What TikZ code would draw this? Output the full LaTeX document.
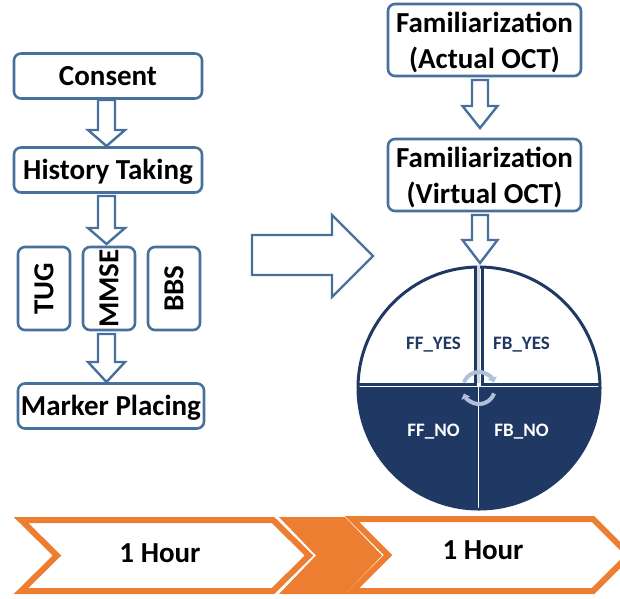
\documentclass[tikz,border=0pt]{standalone}
\usepackage{fontspec}
\setmainfont{Carlito}
\usetikzlibrary{arrows.meta}
\definecolor{boxblue}{RGB}{71,113,156}
\definecolor{navy}{RGB}{31,56,100}
\definecolor{orng}{RGB}{237,125,49}
\definecolor{lightarc}{RGB}{176,192,218}
\newcommand\dnarrow[6]{%
  \draw[blk] (#1-#5,#2) -- (#1+#5,#2) -- (#1+#5,#3) -- (#1+#6,#3) -- (#1,#4) -- (#1-#6,#3) -- (#1-#5,#3) -- cycle;}
\begin{document}
\begin{tikzpicture}[x=1pt,y=-1pt,
  box/.style={draw=boxblue, line width=2.6pt, rounded corners=7pt, fill=white, inner sep=0pt,
    font=\fontsize{29}{36}\selectfont\bfseries, align=center},
  onebox/.style={box, text height=18.5pt, text depth=0pt},
  vbox/.style={box, minimum width=52pt, minimum height=83pt},
  twotxt/.style={font=\fontsize{29}{36}\selectfont\bfseries, align=center, inner sep=0pt},
  blk/.style={draw=boxblue, line width=2.4pt, fill=white, line join=miter},
  chev/.style={draw=orng, line width=6pt, fill=white, line join=miter},
  qtxt/.style={font=\fontsize{19}{22}\selectfont\bfseries},
  htxt/.style={font=\fontsize{29}{34}\selectfont\bfseries}]
\useasboundingbox (0,0) rectangle (620,598);

% left column
\node[onebox, minimum width=188pt, minimum height=45pt] (consent) at (108,76) {Consent};
\node[onebox, minimum width=188pt, minimum height=45pt] (history) at (108,170) {History Taking};
\node[vbox] (tug) at (44,288.5) {\rotatebox{90}{TUG}};
\node[vbox] (mmse) at (109,288.5) {\rotatebox{90}{MMSE}};
\node[vbox] (bbs) at (174,288.5) {\rotatebox{90}{BBS}};
\node[onebox, minimum width=186pt, minimum height=45pt] (marker) at (111,406) {Marker Placing};

\dnarrow{106.5}{100}{130}{146}{8.5}{18.5}
\dnarrow{106.5}{196}{228}{244}{8.5}{18.5}
\dnarrow{106.5}{334}{362}{382}{8.5}{18.5}

% right column
\node[box, minimum width=193pt, minimum height=72pt] (actual) at (484.5,40) {};
\node[box, minimum width=193pt, minimum height=72pt] (virtual) at (484.5,175) {};
\node[twotxt] (acttxt) at (484.5,42) {Familiarization\\(Actual OCT)};
\node[twotxt] (virtxt) at (484.5,177) {Familiarization\\(Virtual OCT)};

\dnarrow{480}{80}{106}{128}{8}{17.5}
\dnarrow{480}{215}{240}{263}{8}{17.5}

% big arrow
\draw[blk] (252,235) -- (332,235) -- (332,215) -- (373,256) -- (332,297) -- (332,275) -- (252,275) -- cycle;

% circle
\coordinate (C) at (479,388);
\begin{scope}
  \clip (C) circle (121);
  \fill[navy] (340,387) rectangle (620,520);
  \draw[white, line width=1.2pt] (478.5,387) -- (478.5,520);
  \draw[navy, line width=3pt] (340,384) -- (475,384) -- (475,250);
  \draw[navy, line width=3pt] (482,250) -- (482,384) -- (620,384);
\end{scope}
\draw[navy, line width=3pt] (C) circle (121);
\fill[white!80!navy] (476.6,265) rectangle (480.4,382.5);

\draw[lightarc, line width=4pt, -{Triangle[width=9pt,length=5pt]}] (C) ++(200:16) arc[start angle=200, end angle=340, radius=16];
\draw[lightarc, line width=4pt, -{Triangle[width=9pt,length=5pt]}] (C) ++(20:16) arc[start angle=20, end angle=160, radius=16];

\node[qtxt, text=navy] (ffy) at (433.5,345) {FF\_YES};
\node[qtxt, text=navy] (fby) at (521.5,345) {FB\_YES};
\node[qtxt, text=white] (ffn) at (433.5,432) {FF\_NO};
\node[qtxt, text=white] (fbn) at (521.5,432) {FB\_NO};

% timeline chevrons
\draw[chev] (21,520) -- (273,520) -- (309,555.5) -- (273,591) -- (21,591) -- (57,555.5) -- cycle;
\fill[orng] (279,517) -- (345,517) -- (382,555.5) -- (345,594) -- (279,594) -- (316,555.5) -- cycle;
\draw[chev] (352,519) -- (593,519) -- (629,555) -- (593,591) -- (352,591) -- (388,555) -- cycle;
\node[htxt] (h1) at (160,553) {1 Hour};
\node[htxt] (h2) at (483,550) {1 Hour};
\end{tikzpicture}
\end{document}
